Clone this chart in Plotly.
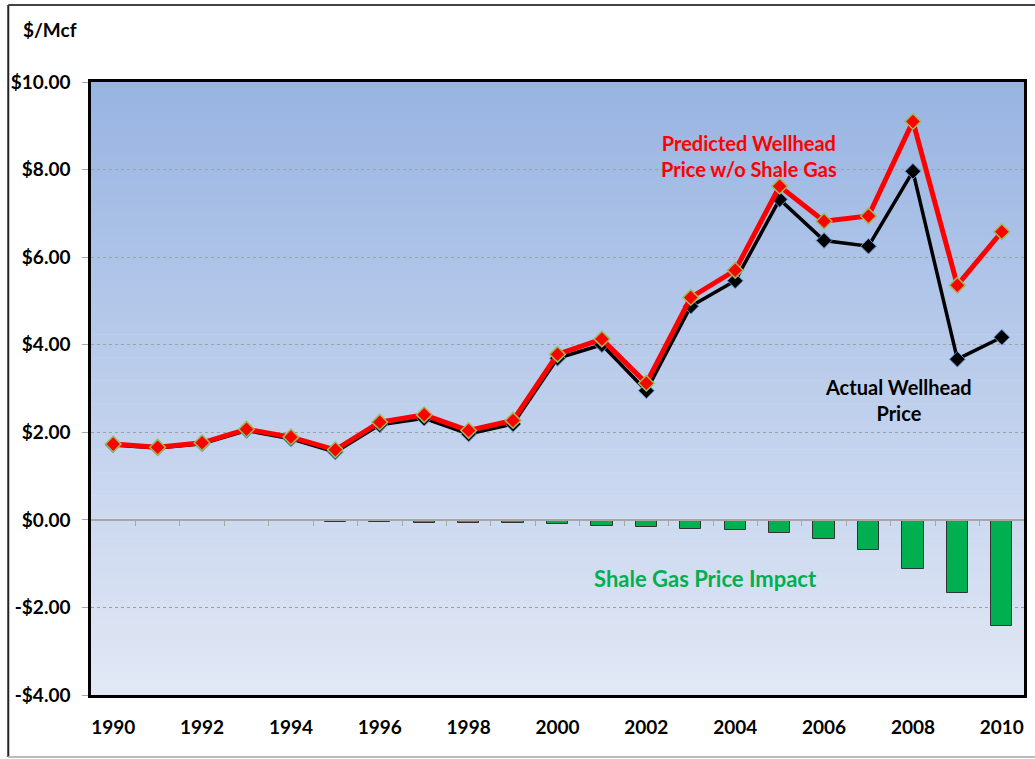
import plotly.graph_objects as go

years = list(range(1990, 2011))
actual_price = [1.71, 1.64, 1.74, 2.04, 1.85, 1.55, 2.17, 2.32, 1.96, 2.19, 3.69,
                4.00, 2.95, 4.88, 5.46, 7.32, 6.38, 6.25, 7.96, 3.67, 4.17]
predicted_price = [1.73, 1.66, 1.76, 2.07, 1.89, 1.60, 2.23, 2.40, 2.04, 2.27, 3.78,
                   4.13, 3.12, 5.08, 5.70, 7.62, 6.82, 6.94, 9.10, 5.36, 6.58]
price_impact = [-0.01, -0.01, -0.01, -0.03, -0.03, -0.05, -0.06, -0.08, -0.08, -0.08, -0.09,
                -0.13, -0.17, -0.20, -0.24, -0.30, -0.43, -0.69, -1.12, -1.68, -2.42]
y_ticks = [-4, -2, 0, 2, 4, 6, 8, 10]
y_labels = ['-$4.00', '-$2.00', '$0.00', '$2.00', '$4.00', '$6.00', '$8.00', '$10.00']
x_ticks = list(range(1990, 2011, 2))

FONT = 'Lato'
W, H = 1035, 759
L, R, T, B = 91, 8, 82, 64

fig = go.Figure()

# gradient background for the plot area (Excel style)
n = 80
top = (152, 180, 226)
bot = (226, 232, 245)
for i in range(n):
    f = i / (n - 1)
    c = tuple(round(top[k] + (bot[k] - top[k]) * f) for k in range(3))
    fig.add_shape(type='rect', xref='x domain', yref='y domain',
                  x0=0, x1=1, y0=1 - (i + 1) / n, y1=1 - i / n + 0.001,
                  fillcolor='rgb(%d,%d,%d)' % c, line_width=0, layer='below')

fig.add_bar(x=years, y=price_impact, xaxis='x2',
            marker=dict(color='#00B050', line=dict(color='#333333', width=1)),
            width=0.48, showlegend=False)
fig.add_scatter(x=years, y=actual_price, mode='lines+markers',
                line=dict(color='black', width=3.5),
                marker=dict(symbol='diamond', size=12, color='black',
                            line=dict(color='#5b8fd0', width=1)),
                showlegend=False)
fig.add_scatter(x=years, y=predicted_price, mode='lines+markers',
                line=dict(color='#FF0000', width=5),
                marker=dict(symbol='diamond', size=12, color='#FF0000',
                            line=dict(color='#9BBB59', width=1.5)),
                showlegend=False)

fig.add_annotation(x=2004.3, y=8.3, xref='x', yref='y',
                   text='<b>Predicted Wellhead<br>Price w/o Shale Gas</b>',
                   showarrow=False, font=dict(family=FONT, size=20, color='#FF0000'))
fig.add_annotation(x=2007.67, y=2.74, xref='x', yref='y',
                   text='<b>Actual Wellhead<br>Price</b>',
                   showarrow=False, font=dict(family=FONT, size=20, color='black'))
fig.add_annotation(x=2003.32, y=-1.35, xref='x', yref='y',
                   text='<b>Shale Gas Price Impact</b>',
                   showarrow=False, font=dict(family=FONT, size=22, color='#00B050'))
fig.add_annotation(x=(21 - L) / (W - L - R), y=(H - B - 30) / (H - T - B),
                   xref='paper', yref='paper', xanchor='left', yanchor='middle',
                   text='<b>$/Mcf</b>', showarrow=False,
                   font=dict(family=FONT, size=19, color='black'))

# outer frame
pw, ph = W - L - R, H - T - B
fig.add_shape(type='line', xref='paper', yref='paper',
              x0=(8 - L) / pw, x1=(8 - L) / pw, y0=(H - B - 5) / ph, y1=(H - B - 757) / ph,
              line=dict(color='#222', width=2))
fig.add_shape(type='line', xref='paper', yref='paper',
              x0=(8 - L) / pw, x1=1.02, y0=(H - B - 5) / ph, y1=(H - B - 5) / ph,
              line=dict(color='#444', width=2))
fig.add_shape(type='line', xref='paper', yref='paper',
              x0=(8 - L) / pw, x1=1.02, y0=(H - B - 757) / ph, y1=(H - B - 757) / ph,
              line=dict(color='#bbb', width=2))

fig.update_layout(
    width=W, height=H,
    margin=dict(l=L, r=R, t=T, b=B),
    paper_bgcolor='white', plot_bgcolor='rgba(0,0,0,0)',
    font=dict(family=FONT, size=19, color='black'),
    bargap=0,
    xaxis=dict(range=[1989.5, 2010.5], tickvals=x_ticks,
               ticktext=['<b>%d</b>' % v for v in x_ticks],
               showgrid=False, zeroline=False, ticks='', ticklabelstandoff=13,
               showline=True, linecolor='black', linewidth=2.5, mirror=True,
               tickfont=dict(family=FONT, size=19)),
    xaxis2=dict(range=[1989.5, 2010.5], overlaying='x', anchor='free',
                position=4 / 14, side='bottom',
                tickvals=[v + 0.5 for v in years[:-1]], ticks='outside',
                ticklen=5, tickcolor='#a6a6a6', showticklabels=False,
                showgrid=False, zeroline=False,
                showline=True, linecolor='#a6a6a6', linewidth=1.5),
    yaxis=dict(range=[-4, 10], tickvals=y_ticks,
               ticktext=['<b>%s</b>' % s for s in y_labels],
               showgrid=True, gridcolor='#a0a0a0', griddash='dot', gridwidth=1,
               zeroline=False, ticks='outside', ticklen=6, tickcolor='#a6a6a6',
               ticklabelstandoff=8,
               showline=True, linecolor='black', linewidth=2.5, mirror=True,
               tickfont=dict(family=FONT, size=19)),
)

fig.write_html("out.html", config={'displayModeBar': False},
               post_script="document.body.style.margin='0';")
